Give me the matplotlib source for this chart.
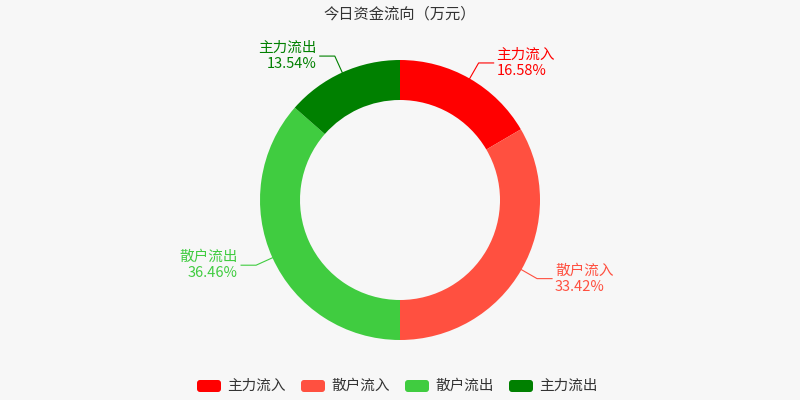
import matplotlib.pyplot as plt
import numpy as np
from matplotlib.patches import FancyBboxPatch

plt.rcParams["font.family"] = ["Noto Sans CJK SC", "DejaVu Sans"]

labels = ["主力流入", "散户流入", "散户流出", "主力流出"]
values = [16.58, 33.42, 36.46, 13.54]
colors = ["#ff0000", "#ff5040", "#40cc40", "#008000"]

fig = plt.figure(figsize=(8, 4), dpi=100, facecolor="#f7f7f7")
ax = fig.add_axes([0, 0, 1, 1])
ax.set_xlim(0, 800)
ax.set_ylim(0, 400)
ax.set_aspect("equal")
ax.axis("off")

cx, cy, r = 400, 200, 140
wedges, _ = ax.pie(values, colors=colors, startangle=90, counterclock=False,
                   center=(cx, cy), radius=r, wedgeprops=dict(width=40),
                   frame=True)
ax.set_xlim(0, 800)
ax.set_ylim(0, 400)
ax.axis("off")

start = 90.0
for lab, val, col in zip(labels, values, colors):
    mid = np.deg2rad(start - val * 3.6 / 2)
    start -= val * 3.6
    x0, y0 = cx + r * np.cos(mid), cy + r * np.sin(mid)
    x1, y1 = cx + (r + 18) * np.cos(mid), cy + (r + 18) * np.sin(mid)
    side = 1 if np.cos(mid) >= 0 else -1
    x2 = x1 + side * 15
    ax.plot([x0, x1, x2], [y0, y1, y1], color=col, lw=0.8)
    ha = "left" if side > 0 else "right"
    tx = x2 + side * 3
    ax.text(tx, y1 + 8, lab, color=col, fontsize=10.5, ha=ha, va="center")
    ax.text(tx, y1 - 8, f"{val:.2f}%", color=col, fontsize=10.5, ha=ha, va="center")

fig.text(0.5, 1 - 14 / 400, "今日资金流向（万元）", ha="center", va="center",
         fontsize=11, color="#333333")

# legend
lx = [197, 301, 405, 509]
for x, lab, col in zip(lx, labels, colors):
    ax.add_patch(FancyBboxPatch((x, 400 - 392), 24, 12,
                                boxstyle="round,pad=0,rounding_size=3",
                                fc=col, ec="none"))
    ax.text(x + 30, 400 - 386, lab, fontsize=10.5, va="center", color="#333333")

fig.savefig("out.png", dpi=100, facecolor=fig.get_facecolor())
